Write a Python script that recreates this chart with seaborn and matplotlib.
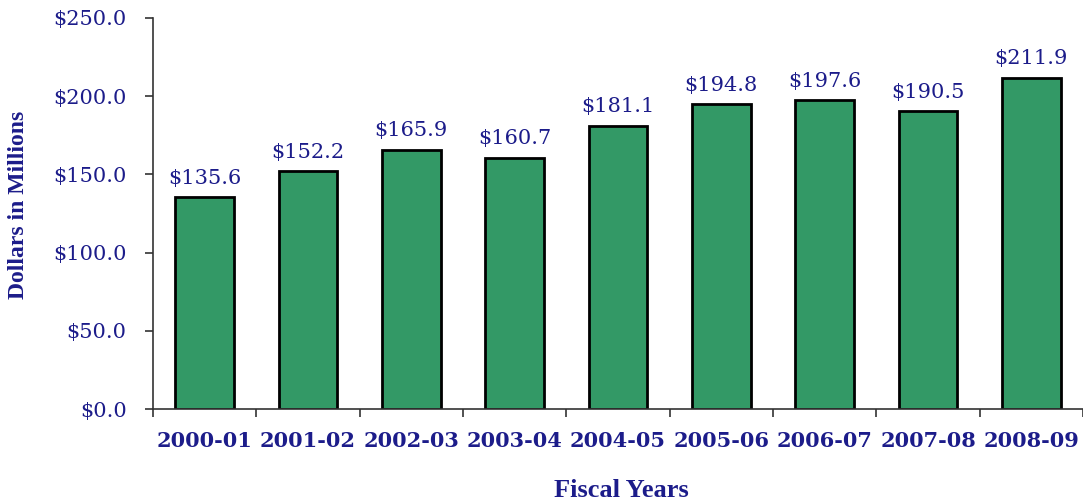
import matplotlib
matplotlib.use("Agg")
import matplotlib.pyplot as plt
import seaborn as sns
import numpy as np
import pandas as pd

years = ["2000-01", "2001-02", "2002-03", "2003-04", "2004-05",
         "2005-06", "2006-07", "2007-08", "2008-09"]
values = [135.6, 152.2, 165.9, 160.7, 181.1, 194.8, 197.6, 190.5, 211.9]
yticks = [0, 50, 100, 150, 200, 250]

sns.set_theme(style="white")
plt.rcParams['font.family'] = ['DejaVu Serif']

navy = "#1c1c8a"
df = pd.DataFrame({"year": years, "value": values})

fig = plt.figure(figsize=(10.83, 5.0), dpi=100)
ax = fig.add_axes([153/1083, 1 - 409/500, 1 - 153/1083, (409 - 18)/500])

sns.barplot(data=df, x="year", y="value", ax=ax, color="#339966",
            saturation=1, width=0.57, edgecolor="black", linewidth=2.0)

ax.set_ylim(0, 250)
ax.set_xlim(-0.5, len(years) - 0.5)
ax.set_yticks(yticks)
ax.set_yticklabels([f"${v:.1f}" for v in yticks], color=navy, fontsize=15)
ax.set_xticks(range(len(years)))
ax.set_xticklabels(years, color=navy, fontsize=15, fontweight="bold")
ax.set_xticks(np.arange(-0.5, len(years)), minor=True)
ax.tick_params(axis="x", which="major", length=0, pad=16)
ax.tick_params(axis="x", which="minor", length=6, width=1.2, color="#333333", direction="out", bottom=True)
ax.tick_params(axis="y", length=6, width=1.2, color="#333333", direction="out", left=True, pad=13)

for s in ["top", "right"]:
    ax.spines[s].set_visible(False)
for s in ["left", "bottom"]:
    ax.spines[s].set_color("#333333")
    ax.spines[s].set_linewidth(1.2)

for i, v in enumerate(values):
    ax.text(i, v + 6, f"${v:.1f}", ha="center", va="bottom", color=navy, fontsize=15)

ax.set_ylabel("Dollars in Millions", family="Liberation Serif", fontweight="bold",
              fontsize=17, color=navy)
ax.yaxis.set_label_coords((29 - 153) / 930, (409 - 205) / 391)
ax.set_xlabel("Fiscal Years", family="Liberation Serif", fontweight="bold",
              fontsize=19, color=navy)
ax.xaxis.set_label_coords((621 - 153) / 930, (409 - 479) / 391)
ax.grid(False)

fig.savefig("out.png", dpi=100)
